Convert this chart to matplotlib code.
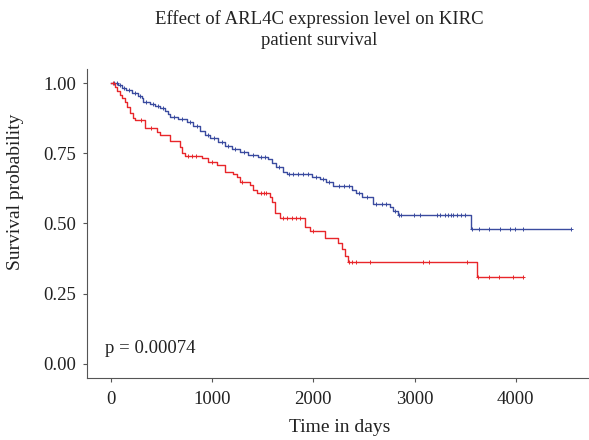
import matplotlib
matplotlib.use("Agg")
import matplotlib.pyplot as plt
import numpy as np

# ---- data ----
blue_times = [0, 72, 112, 151, 210, 270, 309, 319, 388, 437, 487, 536, 566, 585, 664, 753, 812, 882,
              931, 980, 1059, 1128, 1197, 1276, 1355, 1454, 1553, 1592, 1632, 1701, 1740, 1987, 2066,
              2125, 2194, 2382, 2421, 2481, 2589, 2757, 2787, 2836, 3557]
blue_surv = [1.0, 0.993, 0.982, 0.975, 0.964, 0.954, 0.946, 0.932, 0.925, 0.918, 0.911, 0.900, 0.889,
             0.879, 0.871, 0.861, 0.846, 0.829, 0.814, 0.804, 0.789, 0.775, 0.764, 0.754, 0.743, 0.736,
             0.729, 0.714, 0.700, 0.682, 0.675, 0.664, 0.657, 0.646, 0.632, 0.621, 0.607, 0.593, 0.571,
             0.557, 0.543, 0.529, 0.482]
blue_end = 4534
blue_censor = [30, 60, 95, 130, 180, 240, 290, 350, 420, 470, 520, 620, 700, 780, 850, 960, 1020, 1100,
               1160, 1230, 1320, 1400, 1480, 1520, 1660, 1760, 1800, 1850, 1900, 1950, 2030, 2100, 2160,
               2250, 2300, 2350, 2450, 2530, 2620, 2680, 2720, 2810, 2850, 2870, 2990, 3050, 3220, 3250,
               3300, 3330, 3360, 3380, 3420, 3460, 3500, 3567, 3636, 3735, 3843, 3942, 3991, 4071, 4544]

red_times = [0, 42, 62, 92, 112, 141, 161, 191, 220, 240, 339, 457, 487, 585, 684, 704, 733, 901, 961,
             1049, 1128, 1207, 1247, 1276, 1375, 1405, 1444, 1573, 1592, 1622, 1671, 1918, 1967, 2115,
             2244, 2283, 2313, 2342, 3616]
red_surv = [1.0, 0.986, 0.971, 0.957, 0.946, 0.932, 0.914, 0.893, 0.875, 0.868, 0.839, 0.825, 0.814,
            0.793, 0.771, 0.750, 0.739, 0.732, 0.718, 0.707, 0.682, 0.675, 0.664, 0.646, 0.636, 0.618,
            0.607, 0.593, 0.575, 0.536, 0.521, 0.486, 0.475, 0.450, 0.429, 0.411, 0.386, 0.364, 0.311]
red_end = 4072
red_censor = [20, 300, 400, 760, 800, 840, 1000, 1300, 1480, 1510, 1530, 1700, 1740, 1790, 1830, 1870,
              2000, 2350, 2380, 2420, 2560, 3080, 3140, 3520, 3626, 3735, 3834, 3972, 4072]

p_text = "p = 0.00074"
title = "Effect of ARL4C expression level on KIRC\npatient survival"
x_ticks = [0, 1000, 2000, 3000, 4000]
y_ticks = [0.00, 0.25, 0.50, 0.75, 1.00]

BLUE = "#3a4b9f"
RED = "#e8262a"
FONT = ["Liberation Serif", "DejaVu Serif"]
plt.rcParams["font.family"] = FONT

W, H = 589, 440
fig = plt.figure(figsize=(W / 100, H / 100), dpi=100)
ax = fig.add_axes([87 / W, 1 - 378 / H, (W - 87) / W, (378 - 69) / H])


def surv_at(times, surv, t):
    idx = np.searchsorted(times, t, side="right") - 1
    return np.array(surv)[idx]


for times, surv, end, cens, col in [(blue_times, blue_surv, blue_end, blue_censor, BLUE),
                                    (red_times, red_surv, red_end, red_censor, RED)]:
    tt = list(times) + [end]
    ss = list(surv) + [surv[-1]]
    ax.step(tt, ss, where="post", color=col, lw=1.0)
    c = np.array(cens)
    ax.plot(c, surv_at(times, surv, c), ls="none", marker="+", ms=3, mew=0.7, color=col)

ax.set_xlim(-234, 4722)
ax.set_ylim(-0.05, 1.05)
ax.set_xticks(x_ticks)
ax.set_xticklabels([str(v) for v in x_ticks])
ax.set_yticks(y_ticks)
ax.set_yticklabels([f"{v:.2f}" for v in y_ticks])
for s in ["top", "right"]:
    ax.spines[s].set_visible(False)
for s in ["left", "bottom"]:
    ax.spines[s].set_color("#555555")
    ax.spines[s].set_linewidth(0.8)
ax.tick_params(axis="both", length=3, width=0.8, color="#555555", labelsize=13.5, labelcolor="#222222")
ax.tick_params(axis="y", pad=5)
ax.tick_params(axis="x", pad=6)

ax.text(-60, 0.055, p_text, fontsize=13.5, ha="left", va="center", color="#222222")

fig.text(319 / W, 1 - 30 / H, title, ha="center", va="center", fontsize=13.5, color="#222222",
         linespacing=1.3)
fig.text(16 / W, 1 - 192 / H, "Survival probability", rotation=90, ha="center", va="center",
         fontsize=14, color="#222222")
fig.text(340 / W, 1 - 427 / H, "Time in days", ha="center", va="center", fontsize=14, color="#222222")

fig.savefig("out.png", dpi=100)
